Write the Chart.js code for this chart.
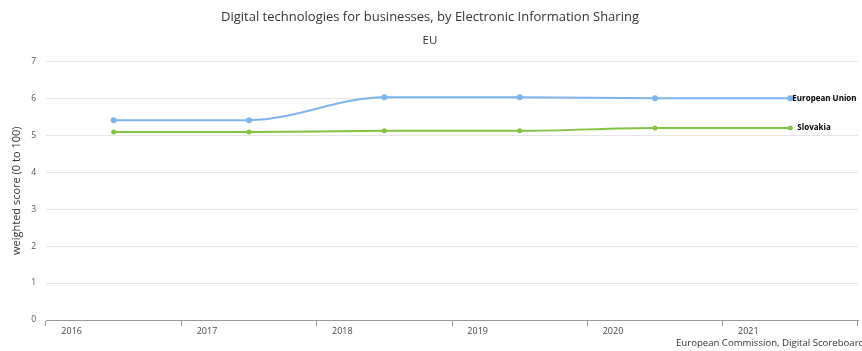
<!DOCTYPE html>
<html>
<head>
<meta charset="utf-8">
<script src="https://cdn.jsdelivr.net/npm/chart.js@4"></script>
<style>
  html, body { margin: 0; padding: 0; background: #fff; }
  #wrap { width: 862px; height: 351px; }
</style>
</head>
<body>
<div id="wrap"><canvas id="graph"></canvas></div>
<script>
const years = ["2016", "2017", "2018", "2019", "2020", "2021"];
const euValues = [5.41, 5.41, 6.03, 6.03, 6.0, 6.0];
const skValues = [5.09, 5.09, 5.12, 5.12, 5.2, 5.2];
const seriesNames = ["European Union", "Slovakia"];
const yTicks = [0, 1, 2, 3, 4, 5, 6, 7];

// end-of-line labels + credits text
const endLabels = {
  id: "endLabels",
  afterDatasetsDraw(chart) {
    const ctx = chart.ctx;
    ctx.save();
    ctx.font = "bold 8px 'Open Sans'";
    ctx.fillStyle = "#000";
    ctx.textBaseline = "middle";
    chart.data.datasets.forEach((ds, i) => {
      const meta = chart.getDatasetMeta(i);
      const pt = meta.data[meta.data.length - 1];
      ctx.fillText(ds.label, pt.x + (i === 0 ? 2 : 7), pt.y);
    });
    ctx.font = "9.6px 'Open Sans'";
    ctx.fillStyle = "#333";
    ctx.textAlign = "left";
    ctx.fillText("European Commission, Digital Scoreboard", 676, 343);
    ctx.restore();
  }
};

const ctx = document.getElementById("graph");
new Chart(ctx, {
  type: "line",
  data: {
    labels: years,
    datasets: [
      {
        label: seriesNames[0],
        data: euValues,
        borderColor: "#7cb5ec",
        backgroundColor: "#7cb5ec",
        borderWidth: 2,
        pointRadius: 3,
        pointBorderWidth: 0,
        cubicInterpolationMode: "monotone",
      },
      {
        label: seriesNames[1],
        data: skValues,
        borderColor: "#82c341",
        backgroundColor: "#82c341",
        borderWidth: 2,
        pointRadius: 2.5,
        pointBorderWidth: 0,
        cubicInterpolationMode: "monotone",
      },
    ],
  },
  plugins: [endLabels],
  options: {
    responsive: true,
    maintainAspectRatio: false,
    animation: false,
    layout: { padding: { left: 0, right: 2, top: 0, bottom: 0 } },
    plugins: {
      legend: { display: false },
      tooltip: { enabled: false },
      title: {
        display: true,
        text: "Digital technologies for businesses, by Electronic Information Sharing",
        color: "#333",
        font: { family: "'Liberation Sans Narrow', 'Open Sans'", size: 13, weight: "normal" },
        padding: { top: 9, bottom: 7 },
      },
      subtitle: {
        display: true,
        text: "EU",
        color: "#333",
        font: { family: "'Liberation Sans Narrow', 'Open Sans'", size: 11.5, weight: "normal" },
        padding: { top: 2, bottom: 14 },
      },
    },
    scales: {
      x: {
        offset: true,
        grid: {
          offset: true,
          drawOnChartArea: false,
          drawTicks: true,
          tickLength: 6,
          color: "#999",
        },
        border: { color: "#999", width: 1 },
        ticks: {
          color: "#444",
          font: { family: "'Open Sans'", size: 9 },
          labelOffset: -42,
          padding: 0,
          maxRotation: 0,
        },
        afterFit(scale) { scale.height = 31; },
      },
      y: {
        min: 0,
        max: 7,
        afterBuildTicks(scale) { scale.ticks = yTicks.map(v => ({ value: v })); },
        grid: { color: "#e6e6e6", drawTicks: false },
        border: { display: false },
        ticks: {
          color: "#555",
          font: { family: "'Open Sans'", size: 8.5 },
          padding: 10,
        },
        title: {
          display: true,
          text: "weighted score (0 to 100)",
          color: "#333",
          font: { family: "'Open Sans'", size: 11 },
          padding: { top: 10, bottom: 0 },
        },
        afterFit(scale) { scale.width = 46; },
      },
    },
  },
});
</script>
</body>
</html>
